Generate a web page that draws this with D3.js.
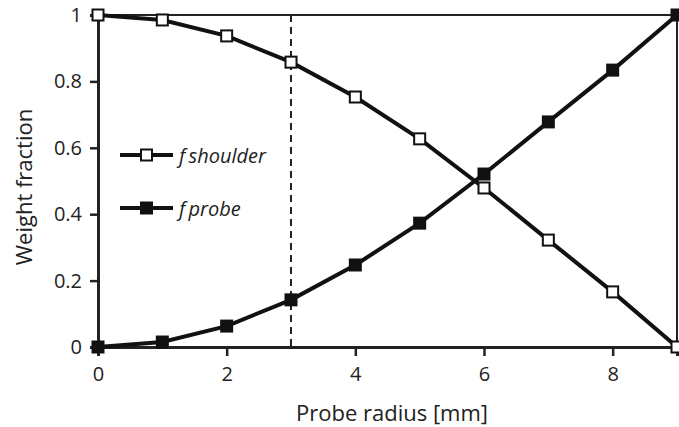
<!DOCTYPE html>
<html>
<head>
<meta charset="utf-8">
<script src="https://cdn.jsdelivr.net/npm/d3@7.9.0/dist/d3.min.js"></script>
<style>
  body { margin: 0; background: #fff; }
  svg { display: block; font-family: "Open Sans", sans-serif; }
</style>
</head>
<body>
<svg id="chart" width="679" height="427"></svg>
<script>
const radius = [0, 1, 2, 3, 4, 5, 6, 7, 8, 9];
const shoulder = [1, 0.985, 0.937, 0.858, 0.753, 0.627, 0.479, 0.322, 0.166, 0];
const probe = [0, 0.015, 0.063, 0.142, 0.247, 0.373, 0.521, 0.678, 0.834, 1];
const xTicks = [0, 2, 4, 6, 8];
const yTicks = [0, 0.2, 0.4, 0.6, 0.8, 1];
const cutoff = 3;

const margin = { left: 98, right: 2, top: 15, bottom: 80 };
const width = 679, height = 427;

const svg = d3.select('#chart');

let x = d3.scaleLinear().domain([0, 9]).range([margin.left, width - margin.right]);
let y = d3.scaleLinear().domain([0, 1]).range([height - margin.bottom, margin.top]);

// frame (top + right)
svg.append('path')
  .attr('d', `M${x(0)},${y(1)}H${x(9)}V${y(0)}`)
  .attr('fill', 'none')
  .attr('stroke', '#222')
  .attr('stroke-width', 2);

let xAxis = svg.append('g')
  .attr('transform', `translate(0,${y(0)})`)
  .call(d3.axisBottom(x).tickValues(xTicks).tickFormat(d3.format('d')).tickSize(9).tickPadding(11));

let yAxis = svg.append('g')
  .attr('transform', `translate(${x(0)},0)`)
  .call(d3.axisLeft(y).tickValues(yTicks).tickFormat(d => d === 0 || d === 1 ? d : d3.format('.1f')(d)).tickSize(8).tickPadding(8));

[xAxis, yAxis].forEach(g => {
  g.select('.domain').attr('stroke', '#222').attr('stroke-width', 3);
  g.selectAll('.tick line').attr('stroke', '#222').attr('stroke-width', 2.5);
  g.selectAll('.tick text').attr('fill', '#222').style('font-size', '20px').style('font-family', '"Open Sans", sans-serif');
});
xAxis.selectAll('.tick line').attr('y1', -1);

// dashed line at cutoff
svg.append('line')
  .attr('x1', x(cutoff)).attr('x2', x(cutoff))
  .attr('y1', y(1)).attr('y2', y(0))
  .attr('stroke', '#222')
  .attr('stroke-width', 2)
  .attr('stroke-dasharray', '7,5');

let line = d3.line().x(d => x(d[0])).y(d => y(d[1]));

function drawSeries(vals, fill) {
  let pts = radius.map((r, i) => [r, vals[i]]);
  svg.append('path')
    .datum(pts)
    .attr('d', line)
    .attr('fill', 'none')
    .attr('stroke', '#111')
    .attr('stroke-width', 4);
  svg.append('g').selectAll('rect')
    .data(pts)
    .enter()
    .append('rect')
    .attr('x', d => x(d[0]) - 5.5)
    .attr('y', d => y(d[1]) - 5.5)
    .attr('width', 11)
    .attr('height', 11)
    .attr('fill', fill)
    .attr('stroke', '#111')
    .attr('stroke-width', 2);
}

drawSeries(probe, '#111');
drawSeries(shoulder, '#fff');

// legend
let legend = [
  { name: 'shoulder', fill: '#fff', y: 155 },
  { name: 'probe', fill: '#111', y: 208 }
];
legend.forEach(d => {
  svg.append('line')
    .attr('x1', 120).attr('x2', 173)
    .attr('y1', d.y).attr('y2', d.y)
    .attr('stroke', '#111').attr('stroke-width', 4);
  svg.append('rect')
    .attr('x', 141).attr('y', d.y - 5.5)
    .attr('width', 11).attr('height', 11)
    .attr('fill', d.fill).attr('stroke', '#111').attr('stroke-width', 2);
  svg.append('text')
    .attr('x', 179).attr('y', d.y + 8)
    .style('font-size', '20px')
    .style('font-style', 'italic')
    .attr('fill', '#222')
    .text('f\u2009' + d.name);
});

// axis titles
svg.append('text')
  .attr('x', 392)
  .attr('y', 421)
  .attr('text-anchor', 'middle')
  .style('font-size', '22px')
  .attr('fill', '#222')
  .text('Probe radius [mm]');

svg.append('text')
  .attr('transform', `translate(32,187) rotate(-90)`)
  .attr('text-anchor', 'middle')
  .style('font-size', '22px')
  .attr('fill', '#222')
  .text('Weight  fraction');
</script>
</body>
</html>
